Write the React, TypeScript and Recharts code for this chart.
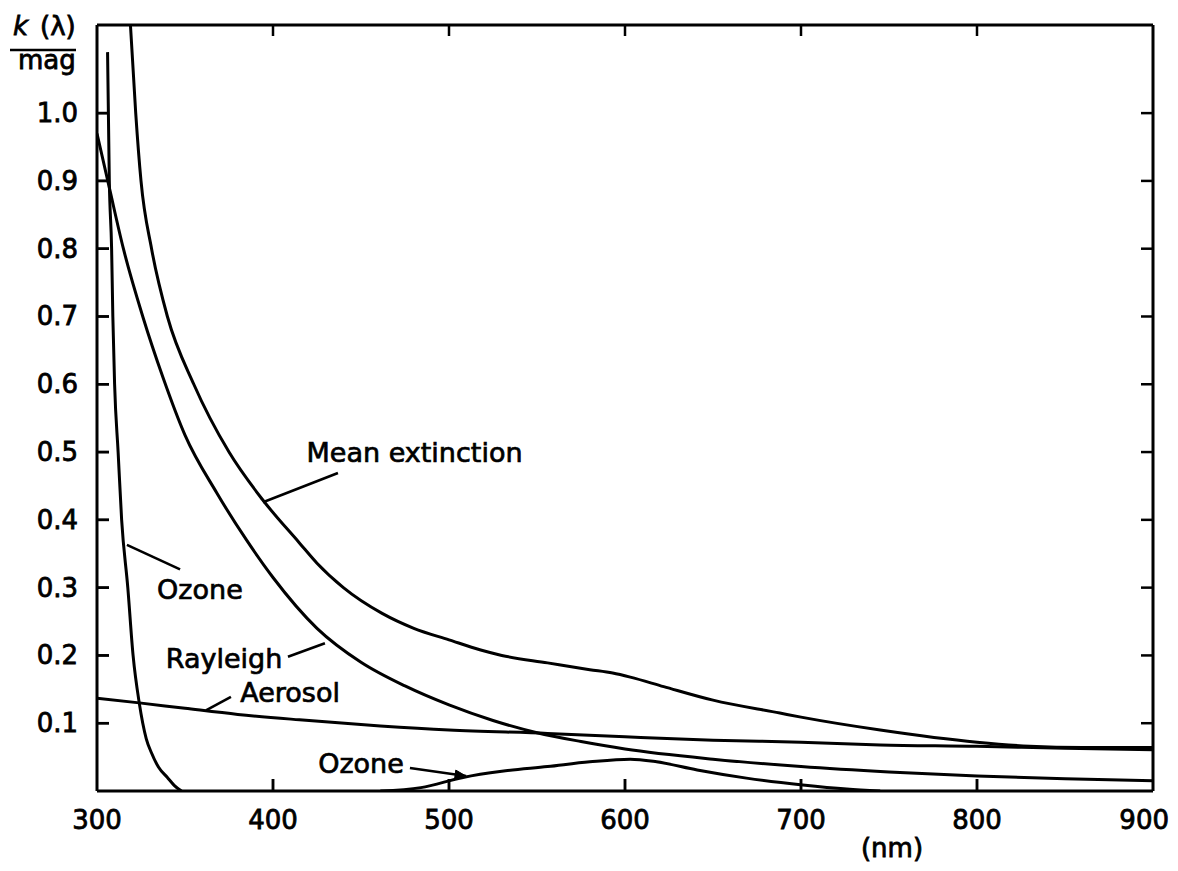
import React from "react";
import {
  LineChart,
  Line,
  XAxis,
  YAxis,
  ReferenceLine,
  ReferenceDot,
} from "recharts";

// wavelength (nm) / extinction (mag)
const meanWl = [318, 319, 322, 325, 331, 340, 355, 375, 394, 415, 425, 440, 462, 480, 500, 518, 530, 556, 580, 593, 603, 622, 650, 688, 700, 745, 800, 830, 860, 900];
const meanK = [1.18, 1.13, 1.0, 0.9, 0.8, 0.7, 0.6, 0.5, 0.43, 0.366, 0.336, 0.3, 0.262, 0.24, 0.223, 0.208, 0.2, 0.189, 0.179, 0.174, 0.168, 0.154, 0.134, 0.115, 0.109, 0.09, 0.072, 0.066, 0.064, 0.064];

const rayleighWl = [300, 307, 315, 326, 337.5, 350, 368, 385, 400, 425, 450, 475, 500, 525, 550, 575, 600, 650, 700, 750, 800, 850, 900];
const rayleighK = [0.97, 0.89, 0.8, 0.7, 0.61, 0.525, 0.44, 0.37, 0.315, 0.24, 0.19, 0.155, 0.127, 0.104, 0.086, 0.073, 0.062, 0.047, 0.036, 0.028, 0.022, 0.018, 0.015];

const aerosolWl = [300, 324, 350, 380, 415, 461, 500, 556, 600, 650, 700, 745, 800, 850, 900];
const aerosolK = [0.137, 0.13, 0.122, 0.113, 0.105, 0.096, 0.09, 0.085, 0.08, 0.075, 0.072, 0.068, 0.066, 0.063, 0.061];

const ozoneUvWl = [306, 307, 308.3, 309, 310, 312, 314, 317.5, 320.5, 324, 326, 328, 331, 335, 340, 344, 348];
const ozoneUvK = [1.09, 0.9, 0.8, 0.7, 0.6, 0.5, 0.4, 0.3, 0.2, 0.13, 0.1, 0.077, 0.056, 0.035, 0.02, 0.008, 0];

const ozoneVisWl = [461, 484, 508, 530, 556, 580, 603, 618, 641, 669, 701, 726, 745];
const ozoneVisK = [0, 0.005, 0.02, 0.029, 0.036, 0.043, 0.047, 0.043, 0.031, 0.019, 0.009, 0.003, 0];

const xTicks = [300, 400, 500, 600, 700, 800, 900];
const innerXTicks = [400, 500, 600, 700, 800];
const yTicks = [0.1, 0.2, 0.3, 0.4, 0.5, 0.6, 0.7, 0.8, 0.9, 1.0];

const X_DOMAIN = [300, 900];
const Y_DOMAIN = [0, 1.13];

const toRows = (wl: number[], k: number[]) => wl.map((w, i) => ({ wl: w, k: k[i] }));

const meanData = toRows(meanWl, meanK);
const rayleighData = toRows(rayleighWl, rayleighK);
const aerosolData = toRows(aerosolWl, aerosolK);
const ozoneUvData = toRows(ozoneUvWl, ozoneUvK);
const ozoneVisData = toRows(ozoneVisWl, ozoneVisK);

const FONT = "'DejaVu Sans', sans-serif";
const INK = "#000";
const textProps = { fontFamily: FONT, fontSize: 26, fill: INK, stroke: INK, strokeWidth: 0.8 };

// chart geometry (px)
const W = 1162;
const H = 855;
const M = { top: 16, right: 16, bottom: 12, left: 0 };
const Y_AXIS_W = 89;
const X_AXIS_H = 60;
const plotW = W - M.left - M.right - Y_AXIS_W - 1;
const plotH = H - M.top - M.bottom - X_AXIS_H - 1;
const TICK_PX = 12;
const tickDx = (TICK_PX * (X_DOMAIN[1] - X_DOMAIN[0])) / plotW;
const tickDy = (TICK_PX * (Y_DOMAIN[1] - Y_DOMAIN[0])) / plotH;

const tickPath = { stroke: INK, strokeWidth: 2.5, fill: "none" };

const renderBottomLabel = ({ x, y, payload, index }: any) => (
  <text
    x={index === xTicks.length - 1 ? x + 16 : x}
    y={y + 38}
    textAnchor={index === xTicks.length - 1 ? "end" : "middle"}
    {...textProps}
  >
    {payload.value}
  </text>
);

const renderLeftLabel = ({ x, y, payload }: any) => (
  <text x={x - 19} y={y + 9} textAnchor="end" {...textProps}>
    {Number(payload.value).toFixed(1)}
  </text>
);

// the top axis draws the inward ticks of both horizontal edges
const renderTopTick = ({ x, y }: any) => (
  <g>
    <path d={`M${x},${y}v${TICK_PX - 1}`} {...tickPath} />
    <path d={`M${x},${y + plotH}v${-TICK_PX}`} {...tickPath} />
  </g>
);

// the right axis draws the inward ticks of both vertical edges
const renderRightTick = ({ x, y }: any) => (
  <g>
    <path d={`M${x},${y}h${-TICK_PX}`} {...tickPath} />
    <path d={`M${x - plotW},${y}h${TICK_PX}`} {...tickPath} />
  </g>
);

const renderYTitle = ({ viewBox }: any) => {
  const { x, y } = viewBox;
  return (
    <g>
      <text x={x + 5} y={y + 10} fontStyle="italic" {...textProps}>k</text>
      <text x={x + 32} y={y + 10} {...textProps}>(λ)</text>
      <path d={`M${x + 2},${y + 25}h66`} stroke={INK} strokeWidth={2.5} />
      <text x={x + 10} y={y + 44} {...textProps}>mag</text>
    </g>
  );
};

const renderXTitle = ({ viewBox }: any) => {
  const { x, y } = viewBox;
  return (
    <text x={x + 795} y={y + 66} textAnchor="middle" {...textProps}>
      (nm)
    </text>
  );
};

// small arrowhead at the end of the lower "Ozone" pointer
const renderArrowHead = ({ cx, cy }: any) => (
  <path d={`M${cx},${cy}L${cx - 11.5},${cy + 2.9}L${cx - 10.3},${cy - 6}Z`} fill={INK} stroke={INK} strokeWidth={1} />
);

const labelStyle = {
  position: "center" as const,
  fontFamily: FONT,
  fontSize: 27,
  fill: INK,
  stroke: INK,
  strokeWidth: 0.7,
};

const notes = [
  { text: "Mean extinction", x: 480.4, y: 0.5, from: { x: 394.3, y: 0.426 }, to: { x: 436.9, y: 0.469 } },
  { text: "Ozone", x: 358.5, y: 0.298, from: { x: 317, y: 0.363 }, to: { x: 347.2, y: 0.327 } },
  { text: "Rayleigh", x: 372.2, y: 0.195, from: { x: 408.5, y: 0.198 }, to: { x: 429.5, y: 0.218 } },
  { text: "Aerosol", x: 409.7, y: 0.146, from: { x: 361.9, y: 0.119 }, to: { x: 376.1, y: 0.139 } },
  { text: "Ozone", x: 450, y: 0.041, from: { x: 477.8, y: 0.034 }, to: { x: 509.7, y: 0.022 } },
];

// extra inward ticks on the left and bottom edges, in data units
const tickSegments = [
  ...innerXTicks.map((v) => [{ x: v, y: Y_DOMAIN[0] + tickDy }, { x: v, y: Y_DOMAIN[0] + 0.001 }]),
  ...yTicks.map((v) => [{ x: X_DOMAIN[0] + tickDx, y: v }, { x: X_DOMAIN[0] + 0.1, y: v }]),
];

export default function App() {
  return (
    <LineChart width={W} height={H} margin={M}>
      <XAxis
        type="number"
        dataKey="wl"
        domain={X_DOMAIN}
        ticks={xTicks}
        allowDataOverflow
        axisLine={{ stroke: INK, strokeWidth: 3 }}
        tickLine={false}
        tickSize={0}
        tickMargin={0}
        height={X_AXIS_H}
        tick={renderBottomLabel}
        interval={0}
        label={{ content: renderXTitle }}
      />
      <XAxis
        xAxisId="top"
        orientation="top"
        type="number"
        dataKey="wl"
        domain={X_DOMAIN}
        ticks={innerXTicks}
        allowDataOverflow
        axisLine={{ stroke: INK, strokeWidth: 3 }}
        tickLine={false}
        tickSize={0}
        tickMargin={0}
        height={1}
        tick={renderTopTick}
        interval={0}
      />
      <YAxis
        type="number"
        domain={Y_DOMAIN}
        ticks={yTicks}
        allowDataOverflow
        axisLine={{ stroke: INK, strokeWidth: 3 }}
        tickLine={false}
        tickSize={0}
        tickMargin={0}
        width={Y_AXIS_W}
        tick={renderLeftLabel}
        interval={0}
        label={{ content: renderYTitle }}
      />
      <YAxis
        yAxisId="right"
        orientation="right"
        type="number"
        domain={Y_DOMAIN}
        ticks={yTicks}
        allowDataOverflow
        axisLine={{ stroke: INK, strokeWidth: 3 }}
        tickLine={false}
        tickSize={0}
        tickMargin={0}
        width={1}
        tick={renderRightTick}
        interval={0}
      />
      {tickSegments.map((s, i) => (
        <ReferenceLine key={`tk-${i}`} segment={s} stroke={INK} strokeWidth={2.5} ifOverflow="visible" />
      ))}
      <Line data={meanData} dataKey="k" type="monotone" stroke={INK} strokeWidth={3} dot={false} isAnimationActive={false} />
      <Line data={rayleighData} dataKey="k" type="monotone" stroke={INK} strokeWidth={3} dot={false} isAnimationActive={false} />
      <Line data={aerosolData} dataKey="k" type="monotone" stroke={INK} strokeWidth={3} dot={false} isAnimationActive={false} />
      <Line data={ozoneUvData} dataKey="k" type="monotone" stroke={INK} strokeWidth={3} dot={false} isAnimationActive={false} />
      <Line data={ozoneVisData} dataKey="k" type="monotone" stroke={INK} strokeWidth={3} dot={false} isAnimationActive={false} />
      {notes.map((n, i) => (
        <ReferenceLine key={`p-${i}`} segment={[n.from, n.to]} stroke={INK} strokeWidth={2.6} />
      ))}
      <ReferenceDot x={notes[4].to.x} y={notes[4].to.y} r={6} shape={renderArrowHead} />
      {notes.map((n, i) => (
        <ReferenceDot key={`t-${i}`} x={n.x} y={n.y} r={0} fill="none" stroke="none" label={{ value: n.text, ...labelStyle }} />
      ))}
    </LineChart>
  );
}
